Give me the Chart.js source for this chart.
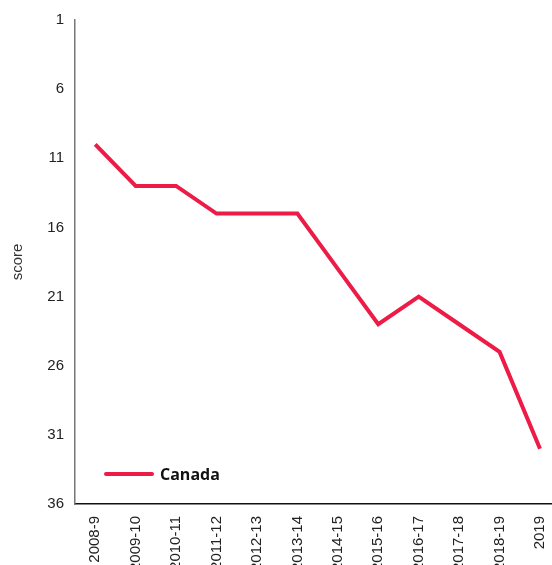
<!DOCTYPE html>
<html>
<head>
<meta charset="utf-8">
<script src="https://cdn.jsdelivr.net/npm/chart.js@4/dist/chart.umd.min.js"></script>
<style>
  html, body { margin: 0; padding: 0; overflow: hidden; background: #fff; }
  #wrap { width: 570px; height: 600px; }
</style>
</head>
<body>
<div id="wrap"><canvas id="scoreChart" width="570" height="600"></canvas></div>
<script>
// Season labels along the bottom axis
const seasons = ['2008-9', '2009-10', '2010-11', '2011-12', '2012-13', '2013-14',
  '2014-15', '2015-16', '2016-17', '2017-18', '2018-19', '2019'];

// Canada's score per season (lower rank drawn lower)
const canadaScores = [10, 13, 13, 15, 15, 15, 19, 23, 21, 23, 25, 32];

const yTicks = [1, 6, 11, 16, 21, 26, 31, 36];

const lineColor = '#ec1c47';

// Draw the legend inside the plot, lower left
const insideLegend = {
  id: 'insideLegend',
  afterDraw(chart) {
    const ctx = chart.ctx;
    const area = chart.chartArea;
    const ds = chart.data.datasets[0];
    const y = area.bottom - 30;
    ctx.save();
    ctx.strokeStyle = ds.borderColor;
    ctx.lineWidth = 4;
    ctx.lineCap = 'round';
    ctx.beginPath();
    ctx.moveTo(area.left + 31, y);
    ctx.lineTo(area.left + 77, y);
    ctx.stroke();
    ctx.fillStyle = '#111';
    ctx.font = 'bold 16px "Open Sans", Lato, sans-serif';
    ctx.textBaseline = 'middle';
    ctx.fillText(ds.label, area.left + 85, y + 1);
    ctx.restore();
  }
};

document.addEventListener('DOMContentLoaded', () => {
  const ctx = document.getElementById('scoreChart');

  new Chart(ctx, {
    type: 'line',
    data: {
      labels: seasons,
      datasets: [{
        label: 'Canada',
        data: canadaScores,
        borderColor: lineColor,
        backgroundColor: lineColor,
        borderWidth: 4,
        pointRadius: 0,
        tension: 0,
        fill: false
      }]
    },
    options: {
      responsive: false,
      animation: false,
      layout: { padding: { top: 16, left: 0, right: 0, bottom: 0 } },
      scales: {
        x: {
          offset: true,
          grid: { display: false, drawTicks: false },
          border: { display: true, color: '#111', width: 1.5 },
          afterFit(scale) { scale.height = 96; },
          ticks: {
            autoSkip: false,
            maxRotation: 90,
            minRotation: 90,
            padding: 12,
            color: '#222',
            font: { family: '"Liberation Sans", Arial, sans-serif', size: 15 }
          }
        },
        y: {
          reverse: true,
          min: 1,
          max: 36,
          grid: { display: false, drawTicks: false },
          border: { display: true, color: '#777', width: 1.5 },
          afterFit(scale) { scale.width = 75; },
          afterBuildTicks(scale) {
            scale.ticks = yTicks.map(v => ({ value: v }));
          },
          title: {
            display: true,
            text: 'score',
            color: '#333',
            padding: { top: 9, bottom: 10 },
            font: { family: '"Liberation Sans", Arial, sans-serif', size: 15 }
          },
          ticks: {
            padding: 11,
            color: '#222',
            font: { family: '"Liberation Sans", Arial, sans-serif', size: 15 }
          }
        }
      },
      plugins: {
        legend: { display: false },
        tooltip: { enabled: false }
      }
    },
    plugins: [insideLegend]
  });
});
</script>
</body>
</html>
